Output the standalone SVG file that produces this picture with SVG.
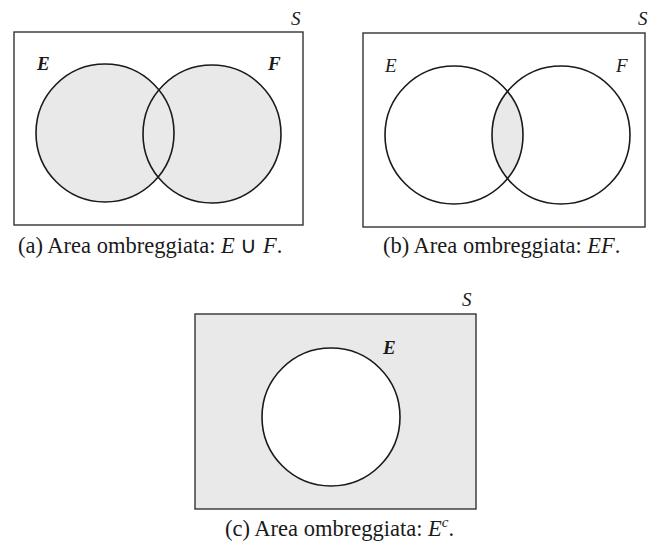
<svg xmlns="http://www.w3.org/2000/svg" width="649" height="547" viewBox="0 0 649 547">
<style>
.frame{fill:#fff;stroke:#333;stroke-width:1.4}
.frameS{fill:#e9e9e9;stroke:#333;stroke-width:1.4}
.c{fill:none;stroke:#1a1a1a;stroke-width:1.6}
.lbl{font-family:"Liberation Serif",serif;font-style:italic;font-size:19px;fill:#1a1a1a}
.cap{font-family:"Liberation Serif",serif;font-size:22.5px;fill:#1a1a1a}
</style>
<defs>
<clipPath id="clipE"><circle cx="454" cy="135" r="69"/></clipPath>
</defs>
<rect width="649" height="547" fill="#fff"/>
<g id="panel-a">
<rect class="frame" x="14" y="32" width="289" height="193"/>
<circle cx="105" cy="133" r="69" fill="#e9e9e9"/>
<circle cx="212" cy="134" r="69" fill="#e9e9e9"/>
<circle class="c" cx="105" cy="133" r="69"/>
<circle class="c" cx="212" cy="134" r="69"/>
<text class="lbl" x="37" y="70" font-weight="bold">E</text>
<text class="lbl" x="268" y="70" font-weight="bold">F</text>
<text class="lbl" x="291" y="25">S</text>
<text class="cap" x="18" y="253">(a) Area ombreggiata: <tspan font-style="italic">E</tspan> ∪ <tspan font-style="italic">F</tspan>.</text>
</g>
<g id="panel-b">
<rect class="frame" x="363" y="33" width="282" height="194"/>
<circle cx="561" cy="135" r="69" fill="#e9e9e9" clip-path="url(#clipE)"/>
<circle class="c" cx="454" cy="135" r="69"/>
<circle class="c" cx="561" cy="135" r="69"/>
<text class="lbl" x="385" y="72">E</text>
<text class="lbl" x="616" y="72">F</text>
<text class="lbl" x="638" y="25">S</text>
<text class="cap" x="383" y="253">(b) Area ombreggiata: <tspan font-style="italic">EF</tspan>.</text>
</g>
<g id="panel-c">
<rect class="frameS" x="195" y="314" width="281" height="195"/>
<circle cx="331" cy="417" r="69" fill="#fff"/>
<circle class="c" cx="331" cy="417" r="69"/>
<text class="lbl" x="383" y="354" font-weight="bold">E</text>
<text class="lbl" x="462" y="306">S</text>
<text class="cap" x="225" y="536">(c) Area ombreggiata: <tspan font-style="italic">E</tspan><tspan font-style="italic" font-size="15" dy="-9">c</tspan><tspan dy="9">.</tspan></text>
</g>
<g id="connectors"/>
</svg>
